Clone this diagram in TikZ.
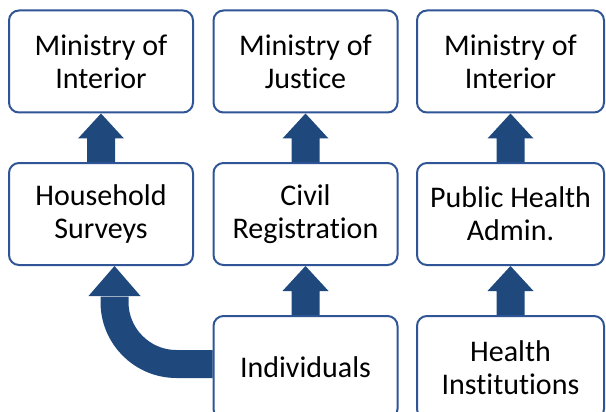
\documentclass[tikz,border=0pt]{standalone}
\usepackage{fontspec}
\setmainfont{Carlito}[Ligatures=NoCommon]
\usetikzlibrary{calc}
\definecolor{boxline}{RGB}{47,85,151}
\definecolor{arrowblue}{RGB}{31,73,125}
\tikzset{
  box/.style={draw=boxline, line width=2pt, fill=white, rounded corners=10pt,
    minimum height=102pt, inner sep=0pt, align=center,
    font=\fontsize{30pt}{33pt}\selectfont},
  blockarrow/.style={fill=arrowblue, draw=none}
}
\begin{document}
\begin{tikzpicture}[x=1pt,y=-1pt]
\useasboundingbox (0,0) rectangle (606,412);
% top row
\node[box, minimum width=184pt] (mi1) at (101,61.5) {Ministry of\\Interior};
\node[box, minimum width=184pt] (mj) at (305.5,61.5) {Ministry of\\Justice};
\node[box, minimum width=187pt] (mi2) at (510.5,61.5) {Ministry of\\Interior};
% middle row
\node[box, minimum width=184pt] (hs) at (101,214) {Household\\Surveys};
\node[box, minimum width=184pt] (cr) at (305.5,214) {Civil\\Registration};
\node[box, minimum width=187pt] (ph) at (510.5,214) {Public Health\\Admin.};
% bottom row
\node[box, minimum width=184pt, minimum height=103pt] (ind) at (305.5,367.5) {Individuals};
\node[box, minimum width=187pt, minimum height=103pt] (hi) at (510.5,367.5) {Health\\Institutions};
% straight block arrows
\foreach \lo/\hi in {hs/mi1, cr/mj, ph/mi2, ind/cr, hi/ph}{
  \fill[blockarrow] ($(\lo.north)+(-14,0)$) -- ($(\hi.south)+(-14,25)$)
    -- ($(\hi.south)+(-23,25)$) -- (\hi.south) -- ($(\hi.south)+(23,25)$)
    -- ($(\hi.south)+(14,25)$) -- ($(\lo.north)+(14,0)$) -- cycle;
}
% curved arrow from Individuals to Household Surveys
\coordinate (corner) at (114.5,364);
\coordinate (tip) at (114.5,266);
\draw[arrowblue, line width=28pt, rounded corners=62pt]
  (ind.west |- corner) -- (corner) -- ($(tip)+(0,30.5)$);
\fill[blockarrow] ($(tip)+(-26,30)$) -- (tip) -- ($(tip)+(26,30)$) -- cycle;
\end{tikzpicture}
\end{document}
